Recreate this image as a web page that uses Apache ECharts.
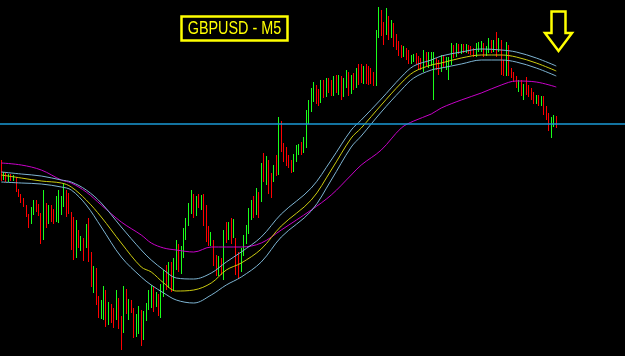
<!DOCTYPE html>
<html><head><meta charset="utf-8">
<script src="https://cdn.jsdelivr.net/npm/echarts@6/dist/echarts.min.js"></script>
<style>html,body{margin:0;padding:0;background:#000;}#c{width:625px;height:356px;}</style>
</head><body><div id="c"></div>
<script>
const chartTitle = 'GBPUSD - M5';
const opens = [
1.2637,1.2622,1.2626,1.2620,1.2624,1.2621,1.2622,1.2610,1.2604,1.2600,
1.2594,1.2585,1.2578,1.2590,1.2597,1.2594,1.2586,1.2564,1.2593,1.2578,
1.2588,1.2587,1.2580,1.2585,1.2588,1.2595,1.2608,1.2602,1.2587,1.2575,
1.2545,1.2568,1.2552,1.2560,1.2555,1.2578,1.2545,1.2513,1.2528,1.2500,
1.2484,1.2482,1.2508,1.2478,1.2494,1.2488,1.2482,1.2500,1.2482,1.2470,
1.2508,1.2486,1.2497,1.2490,1.2466,1.2470,1.2488,1.2464,1.2484,1.2492,
1.2500,1.2510,1.2496,1.2504,1.2490,1.2508,1.2530,1.2515,1.2534,1.2512,
1.2535,1.2552,1.2534,1.2548,1.2565,1.2578,1.2590,1.2603,1.2587,1.2602,
1.2594,1.2602,1.2590,1.2572,1.2557,1.2558,1.2542,1.2528,1.2540,1.2525,
1.2574,1.2562,1.2578,1.2564,1.2560,1.2545,1.2532,1.2547,1.2560,1.2570,
1.2585,1.2600,1.2588,1.2604,1.2600,1.2640,1.2618,1.2635,1.2622,1.2620,
1.2640,1.2628,1.2676,1.2655,1.2650,1.2642,1.2637,1.2630,1.2640,1.2650,
1.2655,1.2650,1.2655,1.2680,1.2692,1.2702,1.2712,1.2708,1.2700,1.2716,
1.2705,1.2718,1.2716,1.2706,1.2722,1.2708,1.2722,1.2705,1.2715,1.2726,
1.2710,1.2722,1.2714,1.2730,1.2732,1.2720,1.2733,1.2730,1.2728,1.2724,
1.2716,1.2765,1.2788,1.2775,1.2768,1.2780,1.2765,1.2774,1.2762,1.2756,
1.2752,1.2745,1.2750,1.2748,1.2738,1.2740,1.2745,1.2742,1.2740,1.2732,
1.2746,1.2735,1.2738,1.2736,1.2740,1.2738,1.2730,1.2743,1.2734,1.2728,
1.2738,1.2753,1.2745,1.2754,1.2748,1.2754,1.2749,1.2753,1.2752,1.2750,
1.2745,1.2750,1.2750,1.2754,1.2746,1.2750,1.2758,1.2750,1.2762,1.2750,
1.2756,1.2738,1.2727,1.2752,1.2730,1.2726,1.2722,1.2710,1.2718,1.2705,
1.2716,1.2712,1.2710,1.2706,1.2698,1.2703,1.2696,1.2702,1.2692,1.2685,
1.2670,1.2675,1.2682];
const closes = [
1.2622,1.2626,1.2620,1.2624,1.2621,1.2623,1.2610,1.2604,1.2598,1.2594,
1.2585,1.2574,1.2592,1.2598,1.2590,1.2586,1.2562,1.2593,1.2576,1.2588,
1.2580,1.2578,1.2600,1.2605,1.2600,1.2610,1.2588,1.2588,1.2555,1.2545,
1.2578,1.2555,1.2562,1.2542,1.2572,1.2542,1.2516,1.2530,1.2500,1.2486,
1.2495,1.2510,1.2478,1.2494,1.2480,1.2475,1.2502,1.2474,1.2460,1.2510,
1.2490,1.2498,1.2490,1.2465,1.2482,1.2490,1.2462,1.2486,1.2494,1.2505,
1.2512,1.2495,1.2504,1.2492,1.2512,1.2525,1.2515,1.2534,1.2512,1.2538,
1.2555,1.2534,1.2550,1.2568,1.2578,1.2592,1.2605,1.2585,1.2600,1.2594,
1.2602,1.2578,1.2562,1.2558,1.2565,1.2538,1.2528,1.2540,1.2528,1.2565,
1.2560,1.2575,1.2560,1.2578,1.2530,1.2528,1.2548,1.2562,1.2572,1.2588,
1.2596,1.2586,1.2606,1.2586,1.2632,1.2622,1.2640,1.2610,1.2605,1.2632,
1.2628,1.2678,1.2652,1.2642,1.2637,1.2635,1.2630,1.2643,1.2652,1.2653,
1.2648,1.2660,1.2682,1.2695,1.2708,1.2714,1.2700,1.2698,1.2714,1.2705,
1.2717,1.2710,1.2706,1.2720,1.2710,1.2722,1.2704,1.2718,1.2726,1.2708,
1.2722,1.2714,1.2728,1.2718,1.2720,1.2730,1.2720,1.2718,1.2720,1.2716,
1.2765,1.2788,1.2767,1.2758,1.2788,1.2762,1.2776,1.2756,1.2753,1.2747,
1.2745,1.2752,1.2743,1.2738,1.2743,1.2744,1.2738,1.2733,1.2732,1.2748,
1.2736,1.2745,1.2745,1.2744,1.2732,1.2727,1.2742,1.2735,1.2740,1.2740,
1.2754,1.2745,1.2754,1.2748,1.2754,1.2749,1.2754,1.2748,1.2747,1.2745,
1.2754,1.2755,1.2756,1.2745,1.2752,1.2760,1.2750,1.2758,1.2745,1.2758,
1.2728,1.2727,1.2754,1.2728,1.2724,1.2720,1.2714,1.2718,1.2707,1.2713,
1.2708,1.2705,1.2702,1.2698,1.2703,1.2696,1.2702,1.2688,1.2682,1.2672,
1.2680,1.2682,1.2674];
const highs = [
1.2640,1.2628,1.2628,1.2626,1.2626,1.2625,1.2623,1.2611,1.2606,1.2602,
1.2595,1.2586,1.2593,1.2600,1.2600,1.2596,1.2587,1.2610,1.2597,1.2595,
1.2595,1.2591,1.2604,1.2610,1.2604,1.2617,1.2610,1.2607,1.2588,1.2583,
1.2580,1.2570,1.2564,1.2562,1.2576,1.2582,1.2548,1.2534,1.2532,1.2504,
1.2500,1.2514,1.2510,1.2498,1.2496,1.2492,1.2510,1.2502,1.2484,1.2514,
1.2511,1.2501,1.2500,1.2492,1.2486,1.2494,1.2490,1.2489,1.2497,1.2510,
1.2515,1.2513,1.2508,1.2506,1.2516,1.2530,1.2535,1.2538,1.2538,1.2542,
1.2560,1.2556,1.2554,1.2572,1.2582,1.2597,1.2610,1.2606,1.2604,1.2606,
1.2605,1.2606,1.2595,1.2574,1.2568,1.2560,1.2545,1.2544,1.2542,1.2570,
1.2578,1.2578,1.2582,1.2581,1.2562,1.2548,1.2552,1.2565,1.2575,1.2592,
1.2600,1.2604,1.2612,1.2608,1.2637,1.2647,1.2644,1.2640,1.2627,1.2635,
1.2645,1.2683,1.2679,1.2657,1.2653,1.2645,1.2640,1.2646,1.2655,1.2656,
1.2658,1.2663,1.2690,1.2700,1.2712,1.2718,1.2715,1.2711,1.2720,1.2720,
1.2722,1.2722,1.2720,1.2724,1.2725,1.2725,1.2724,1.2722,1.2730,1.2728,
1.2725,1.2727,1.2732,1.2736,1.2736,1.2734,1.2736,1.2734,1.2732,1.2728,
1.2770,1.2793,1.2790,1.2778,1.2792,1.2784,1.2780,1.2777,1.2766,1.2759,
1.2755,1.2754,1.2752,1.2750,1.2745,1.2746,1.2747,1.2744,1.2742,1.2750,
1.2748,1.2748,1.2748,1.2748,1.2742,1.2740,1.2745,1.2745,1.2743,1.2743,
1.2757,1.2755,1.2757,1.2756,1.2756,1.2756,1.2756,1.2755,1.2754,1.2752,
1.2757,1.2758,1.2759,1.2757,1.2754,1.2762,1.2760,1.2760,1.2768,1.2762,
1.2760,1.2740,1.2758,1.2755,1.2732,1.2728,1.2724,1.2720,1.2720,1.2716,
1.2723,1.2715,1.2712,1.2708,1.2705,1.2705,1.2704,1.2704,1.2694,1.2687,
1.2683,1.2685,1.2684];
const lows = [
1.2619,1.2620,1.2618,1.2618,1.2619,1.2619,1.2608,1.2603,1.2597,1.2593,
1.2583,1.2572,1.2576,1.2585,1.2588,1.2584,1.2556,1.2560,1.2572,1.2576,
1.2578,1.2576,1.2578,1.2577,1.2585,1.2593,1.2583,1.2586,1.2550,1.2540,
1.2542,1.2552,1.2549,1.2539,1.2552,1.2538,1.2513,1.2507,1.2495,1.2482,
1.2481,1.2480,1.2473,1.2475,1.2477,1.2472,1.2480,1.2471,1.2450,1.2467,
1.2486,1.2480,1.2487,1.2462,1.2463,1.2466,1.2454,1.2460,1.2479,1.2490,
1.2492,1.2488,1.2493,1.2484,1.2482,1.2503,1.2510,1.2512,1.2508,1.2509,
1.2530,1.2528,1.2526,1.2542,1.2560,1.2574,1.2586,1.2582,1.2584,1.2592,
1.2590,1.2574,1.2558,1.2554,1.2554,1.2534,1.2524,1.2524,1.2525,1.2520,
1.2557,1.2560,1.2556,1.2562,1.2525,1.2522,1.2528,1.2544,1.2556,1.2566,
1.2580,1.2582,1.2585,1.2582,1.2598,1.2618,1.2615,1.2606,1.2602,1.2618,
1.2624,1.2625,1.2648,1.2638,1.2634,1.2632,1.2627,1.2628,1.2638,1.2645,
1.2645,1.2647,1.2652,1.2676,1.2688,1.2698,1.2696,1.2694,1.2697,1.2702,
1.2703,1.2707,1.2704,1.2704,1.2707,1.2705,1.2700,1.2703,1.2712,1.2704,
1.2706,1.2710,1.2712,1.2715,1.2717,1.2716,1.2716,1.2715,1.2716,1.2714,
1.2714,1.2762,1.2764,1.2755,1.2765,1.2760,1.2762,1.2753,1.2750,1.2744,
1.2742,1.2743,1.2740,1.2736,1.2736,1.2738,1.2736,1.2731,1.2730,1.2728,
1.2734,1.2732,1.2734,1.2700,1.2730,1.2725,1.2728,1.2733,1.2730,1.2720,
1.2735,1.2742,1.2743,1.2746,1.2746,1.2747,1.2747,1.2746,1.2745,1.2743,
1.2743,1.2748,1.2748,1.2743,1.2744,1.2747,1.2747,1.2748,1.2743,1.2748,
1.2725,1.2724,1.2724,1.2724,1.2722,1.2718,1.2712,1.2708,1.2704,1.2700,
1.2705,1.2703,1.2700,1.2696,1.2696,1.2694,1.2694,1.2685,1.2680,1.2669,
1.2662,1.2673,1.2672];
// moving-average envelope readings (bar index -> price)
const maIndex = [0,8,16,24,28,34,40,48,56,60,65,70,77,84,90,96,104,112,124,132,140,144,152,160,165,172,176,184,192,200,206,214,222];
const maUpper = [1.2628,1.2626,1.2624,1.2620,1.2618,1.2610,1.2597,1.2573,1.2550,1.2540,1.2530,1.2522,1.2521,1.2527,1.2538,1.2548,1.2563,1.2586,1.2612,1.2640,1.2670,1.2680,1.2701,1.2723,1.2734,1.2740,1.2744,1.2748,1.2751,1.2750,1.2748,1.2742,1.2734];
const maMid   = [1.2625,1.2622,1.2619,1.2617,1.2613,1.2600,1.2583,1.2557,1.2533,1.2528,1.2517,1.2509,1.2510,1.2517,1.2530,1.2537,1.2551,1.2574,1.2600,1.2630,1.2662,1.2672,1.2695,1.2717,1.2728,1.2735,1.2737,1.2742,1.2745,1.2745,1.2743,1.2737,1.2729];
const maLower = [1.2618,1.2617,1.2616,1.2613,1.2610,1.2595,1.2573,1.2543,1.2523,1.2515,1.2507,1.2500,1.2497,1.2505,1.2515,1.2523,1.2538,1.2563,1.2589,1.2620,1.2653,1.2664,1.2688,1.2710,1.2722,1.2730,1.2732,1.2736,1.2740,1.2740,1.2738,1.2732,1.2724];
const maSlow  = [1.2637,1.2635,1.2630,1.2620,1.2617,1.2608,1.2595,1.2578,1.2565,1.2557,1.2552,1.2550,1.2548,1.2553,1.2553,1.2553,1.2557,1.2570,1.2590,1.2605,1.2625,1.2635,1.2650,1.2672,1.2679,1.2686,1.2692,1.2700,1.2707,1.2715,1.2719,1.2718,1.2713];
const levelPrice = 1.2676;
const priceMin = 1.2444, priceMax = 1.2800;
const slotCount = 250;

const candles = opens.map((o, i) => [o, closes[i], lows[i], highs[i]]);
const cats = Array.from({length: slotCount}, (_, i) => i);
const pairs = arr => maIndex.map((x, k) => [x, arr[k]]);
const maLine = (arr, color) => ({
  type: 'line', data: pairs(arr), showSymbol: false, smooth: 0.35, z: 3,
  lineStyle: {color: color, width: 1}, silent: true
});

const slow = maLine(maSlow, '#c800c8');
slow.markLine = {
  silent: true, precision: 5, symbol: ['none', 'none'], label: {show: false},
  lineStyle: {color: '#1a9ad6', width: 1.5, type: 'solid'},
  data: [{yAxis: levelPrice}]
};

const chart = echarts.init(document.getElementById('c'));
chart.setOption({
  animation: false,
  backgroundColor: '#000000',
  grid: {left: 0, right: 0, top: 0, bottom: 0},
  xAxis: {type: 'category', data: cats, show: false, boundaryGap: true},
  yAxis: {type: 'value', min: priceMin, max: priceMax, show: false},
  series: [
    {
      type: 'candlestick', data: candles, barWidth: 1.2, z: 2,
      itemStyle: {color: '#1aff1a', color0: '#ff0000', borderColor: '#1aff1a', borderColor0: '#ff0000', borderWidth: 1}
    },
    slow,
    maLine(maUpper, '#7db4d2'),
    maLine(maMid, '#cccc10'),
    maLine(maLower, '#7db4d2')
  ],
  graphic: [
    {type: 'rect', shape: {x: 181.5, y: 16.5, width: 106, height: 24}, style: {fill: 'rgba(0,0,0,0)', stroke: '#ffff00', lineWidth: 2.5}, z: 10},
    {type: 'text', x: 234.5, y: 29, scaleX: 0.8, z: 10,
     style: {text: chartTitle, fill: '#ffff00', font: '18px "Liberation Sans", Arial, sans-serif', align: 'center', verticalAlign: 'middle'}},
    {type: 'polygon', z: 10,
     shape: {points: [[551.5, 11.5], [565.5, 11.5], [565.5, 33], [572, 33], [558.5, 51], [545, 33], [551.5, 33]]},
     style: {fill: 'rgba(0,0,0,0)', stroke: '#ffff00', lineWidth: 2.5}}
  ]
});
</script></body></html>
